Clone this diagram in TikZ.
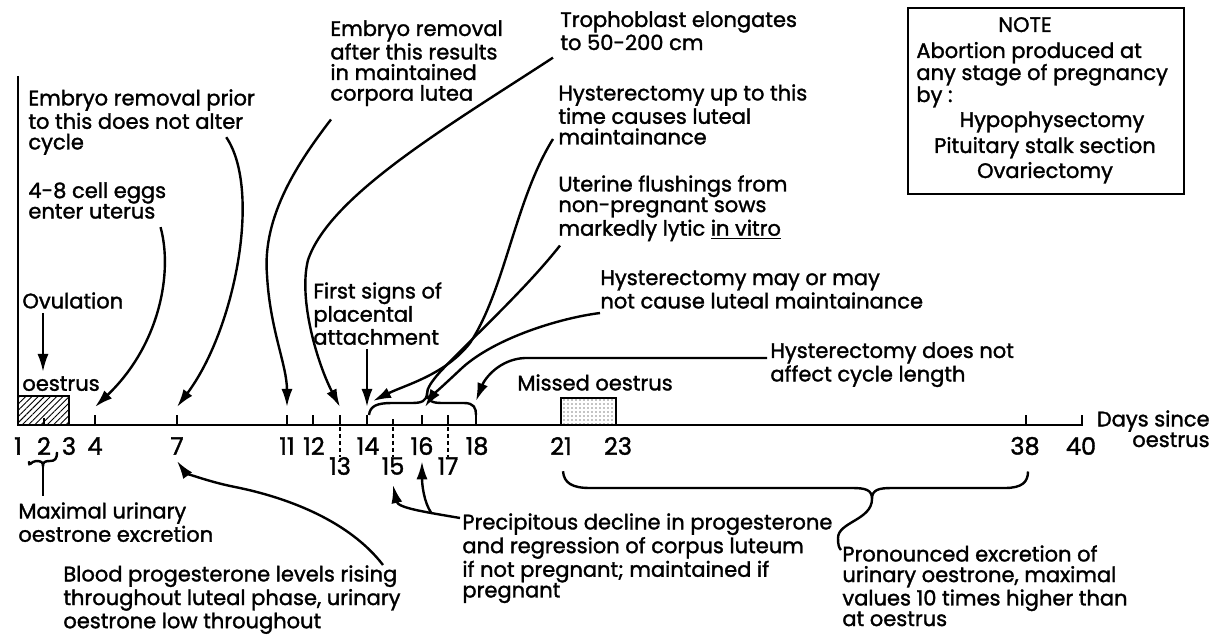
\documentclass[tikz,border=0pt]{standalone}
\usepackage{fontspec}
\setmainfont{Poppins}[FakeBold=1.5]
\usetikzlibrary{arrows.meta,patterns.meta,positioning}

\tikzset{
  txt/.style={font=\fontsize{10.5}{10.3}\selectfont, align=left, inner sep=0pt, anchor=north west},
  noteline/.style={font=\fontsize{10.5}{10.4}\selectfont, inner sep=0pt, text height=7.5pt, text depth=2.5pt},
  daynum/.style={font=\fontsize{12}{12}\selectfont, inner sep=0pt},
  stroke/.style={line width=1.2pt},
  pointer/.style={stroke, -{Latex[length=9pt,width=5.5pt]}},
}

\begin{document}
\begin{tikzpicture}[x=0.5pt,y=-0.5pt]
\useasboundingbox (0,0) rectangle (1220,640);
\fill[white] (0,0) rectangle (1220,640);

% time axis and oestrus boxes
\draw[stroke] (18,76) -- (18,425) -- (1082,425) -- (1082,415);
\draw[stroke, pattern={Lines[angle=45,distance=2.2pt,line width=0.45pt]}] (18,396) rectangle (69,425);
\draw[stroke, pattern={Dots[distance=2pt,radius=0.35pt]}] (561,398) rectangle (616,425);
\draw[stroke] (44,425) -- (44,418);
\foreach \d/\x in {4/95,7/177,11/287,12/313,13/340,14/367,16/422,17/448,18/476,38/1026}
  \draw[stroke] (\x,425) -- (\x,415) coordinate (t\d);
\draw[stroke] (393,425) -- (393,419) coordinate (t15);

% day numbers
\foreach \d/\x in {1/18,2/44,3/69,4/95,7/177,11/287,12/314,14/368,16/422,18/477,21/561,23/618,38/1025,40/1081}
  \node[daynum] (d\d) at (\x,446) {\d};
\foreach \d/\x in {13/340,15/393,17/448} {
  \node[daynum] (d\d) at (\x,466) {\d};
  \draw[dashed, line width=0.9pt, dash pattern=on 2pt off 1.5pt] (t\d |- 0,427) -- (d\d.north);
}
\node[txt, align=right, anchor=north east] (axlbl) at (1210,410) {Days since\\oestrus};

% labels
\node[txt] (ovul) at (22,292) {Ovulation};
\node[txt] (oest) at (22,376) {oestrus};
\node[txt] (prior) at (28,89) {Embryo removal prior\\to this does not alter\\cycle};
\node[txt] (eggs) at (28,182) {4-8 cell eggs\\enter uterus};
\node[txt] (after) at (330,20) {Embryo removal\\after this results\\in maintained\\corpora lutea};
\node[txt] (troph) at (560,11) {Trophoblast elongates\\to 50-200 cm};
\node[txt] (hystup) at (558,84) {Hysterectomy up to this\\time causes luteal\\maintainance};
\node[txt] (flush) at (558,175) {Uterine flushings from\\non-pregnant sows\\markedly lytic \underline{in vitro}};
\node[txt] (placent) at (313,282) {First signs of\\placental\\attachment};
\node[txt] (hystmay) at (600,270) {Hysterectomy may or may\\not cause luteal maintainance};
\node[txt] (hystnot) at (770,342) {Hysterectomy does not\\affect cycle length};
\node[txt] (missed) at (517,374) {Missed oestrus};
\node[txt] (maxi) at (18,502) {Maximal urinary\\oestrone excretion};
\node[txt] (blood) at (63,565) {Blood progesterone levels rising\\throughout luteal phase, urinary\\oestrone low throughout};
\node[txt] (precip) at (462,513) {Precipitous decline in progesterone\\and regression of corpus luteum\\if not pregnant; maintained if\\pregnant};
\node[txt] (pronoun) at (842,545) {Pronounced excretion of\\urinary oestrone, maximal\\values 10 times higher than\\at oestrus};

% note box
\node[draw, stroke, minimum width=138pt, minimum height=93pt, anchor=north west, inner sep=0pt] (notebox) at (907,7) {};
\node[noteline] (nHead) at (1025,27) {NOTE};
\node[noteline, anchor=west] (nL1) at (916,53) {Abortion produced at};
\node[noteline, anchor=west] (nL2) at (916,75) {any stage of pregnancy};
\node[noteline, anchor=west] (nL3) at (916,97) {by :};
\node[noteline] (nL4) at (1052,122) {Hypophysectomy};
\node[noteline] (nL5) at (1045,148) {Pituitary stalk section};
\node[noteline] (nL6) at (1045,173) {Ovariectomy};

% braces
\draw[stroke] ([shift={(-7.5pt,-3pt)}]d2.south) .. controls +(0,-3.5pt) and (31,461) .. (36,461)
  .. controls (41,461) and (43,462) .. (43,466) coordinate (c2)
  .. controls (43,462) and (45,461) .. (50,461) .. controls (55,461) and (57,459) .. (57,452);
\draw[stroke, shorten >=3pt] (c2) -- (c2 |- maxi.north);
\draw[stroke] ([xshift=1pt]t14) .. controls (370,406) and (377,403) .. (392,403) -- (412,403)
  .. controls (422,403) and (426,401) .. (427,394) coordinate (bc)
  .. controls (428,401) and (432,403) .. (442,403) -- (464,403)
  .. controls (474,403) and (476,408) .. (t18);
\draw[stroke] ([shift={(1pt,-8pt)}]d21.south) .. controls (564,483) and (572,488) .. (590,488) -- (852,488)
  .. controls (866,488) and (872,490) .. (872,499) coordinate (bc2)
  .. controls (872,490) and (878,488) .. (892,488) -- (1005,488)
  .. controls (1022,488) and (1028,482) .. ([shift={(1.5pt,-8pt)}]d38.south);
\draw[stroke] (bc2) .. controls (872,520) and (838,522) .. (838,538)
  .. controls (838,545) and (839,548) .. ([shift={(-0.5pt,-2.5pt)}]pronoun.north west);

% pointers
\draw[pointer, shorten <=2pt] (ovul.south -| c2) -- ([yshift=2pt]oest.north -| c2);
\draw[pointer] ([shift={(-3pt,-4pt)}]eggs.south east) .. controls (173,272) and (160,345) .. ([yshift=4pt]t4);
\draw[pointer] ([shift={(-14.5pt,9pt)}]prior.south east) .. controls (262,190) and (235,330) .. ([yshift=4pt]t7);
\draw[pointer] ([shift={(0.5pt,-6.5pt)}]after.south west) .. controls (300,160) and (262,215) .. (267,275)
  .. controls (270,330) and (287,365) .. ([yshift=4pt]t11);
\draw[pointer] ([shift={(-3.5pt,-3.5pt)}]troph.south west) .. controls (450,125) and (330,195) .. (308,260)
  .. controls (298,300) and (318,365) .. ([yshift=4pt]t13);
\draw[pointer, shorten <=2pt] (placent.south -| t14) -- ([yshift=4pt]t14);
\draw[pointer] ([shift={(-2.5pt,3pt)}]hystup.south west) .. controls (515,200) and (505,290) .. (470,343)
  .. controls (445,375) and (405,385) .. ([shift={(3pt,7pt)}]t14);
\draw[stroke] ([shift={(1pt,-2pt)}]flush.south west) .. controls (525,290) and (470,340) .. (440,372)
  .. controls (432,381) and (427,388) .. (bc);
\draw[pointer] ([yshift=-2pt]hystmay.south west) .. controls (560,318) and (495,338) .. (462,368)
  .. controls (445,384) and (433,395) .. ([shift={(1.5pt,4pt)}]t16);
\draw[pointer] ([shift={(-1.5pt,-8pt)}]hystnot.north west) -- (525,358) .. controls (500,359) and (485,378) .. ([yshift=7pt]t18);
\draw[pointer] ([xshift=160pt]blood.north west) .. controls (350,522) and (290,498) .. (235,487)
  .. controls (205,481) and (185,472) .. ([yshift=-3pt]d7.south);
\draw[pointer] ([shift={(-1pt,-2.5pt)}]precip.north west) .. controls (425,512) and (398,508) .. ([yshift=-5pt]d15.south)
  coordinate[pos=0.3] (pbr);
\draw[pointer] (pbr) .. controls (424,502) and (422,485) .. ([yshift=-3pt]d16.south);
\end{tikzpicture}
\end{document}
